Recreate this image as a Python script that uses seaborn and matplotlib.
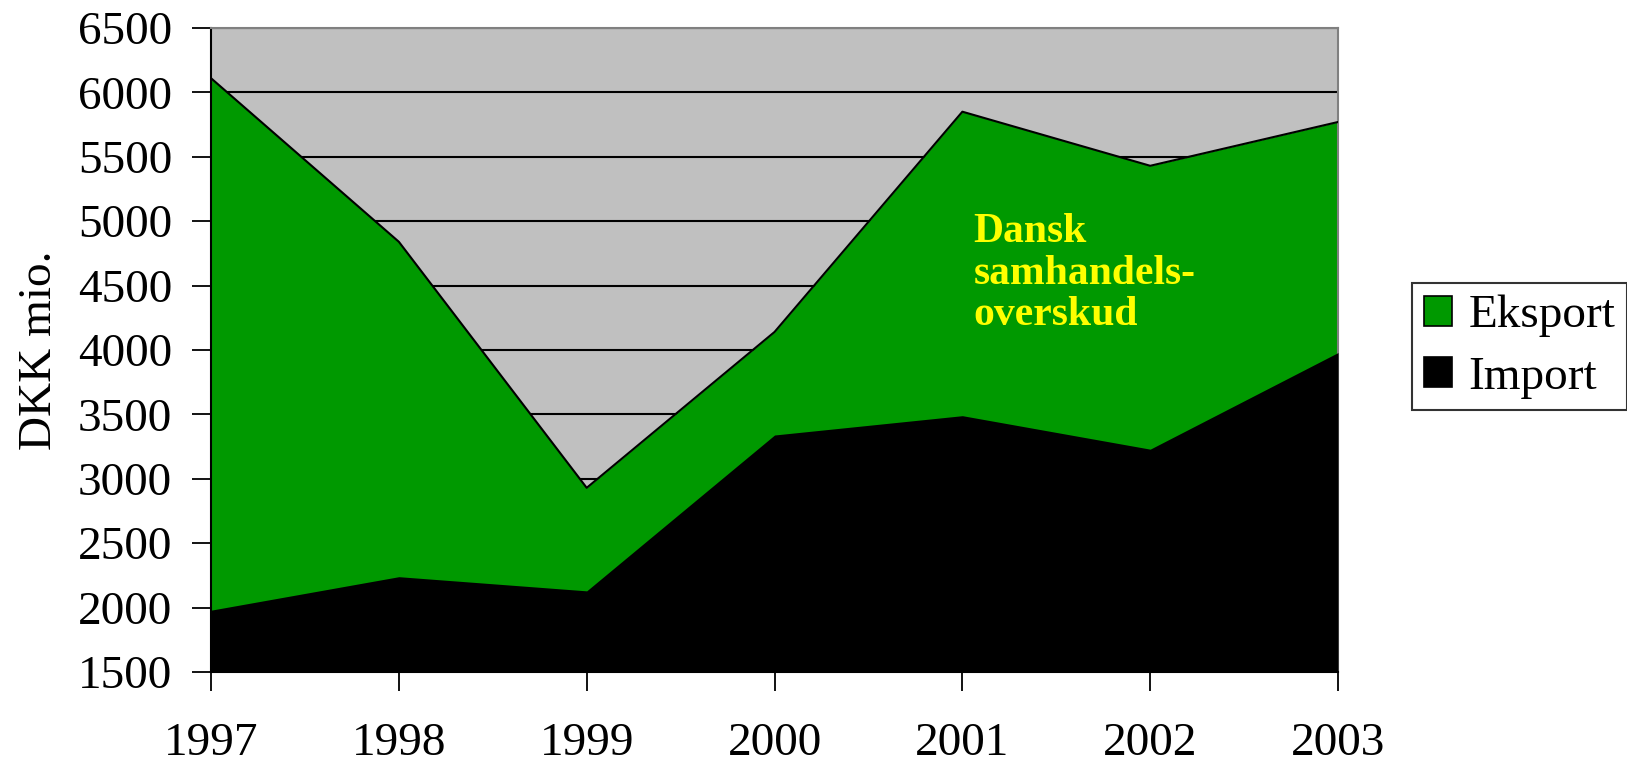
#!/usr/bin/env python3

import matplotlib.pyplot as plt
import pandas as pd
import seaborn as sns
from matplotlib.patches import Patch
from typing import List


# Danish trade, DKK mio.
years: List[int] = [1997, 1998, 1999, 2000, 2001, 2002, 2003]
eksport: List[float] = [6110, 4840, 2930, 4140, 5850, 5430, 5770]
import_: List[float] = [1980, 2240, 2130, 3340, 3490, 3230, 3980]
yticks: List[int] = [1500, 2000, 2500, 3000, 3500, 4000, 4500, 5000, 5500, 6000, 6500]

df: pd.DataFrame = pd.DataFrame({"year": years, "Eksport": eksport, "Import": import_})

sns.set_style("white")
plt.rcParams["font.family"] = ["Liberation Serif", "DejaVu Serif"]
plt.rcParams["text.color"] = "black"
plt.rcParams["axes.labelcolor"] = "black"
plt.rcParams["xtick.color"] = "black"
plt.rcParams["ytick.color"] = "black"

green = "#009900"
fig, ax = plt.subplots(figsize=(16.27, 7.62), dpi=100)
fig.subplots_adjust(left=0.1297, right=0.8224, top=0.9633, bottom=0.1181)

ax.set_facecolor("#C0C0C0")
ax.set_axisbelow(True)
ax.grid(axis="y", color="black", linewidth=1.5)
ax.grid(axis="x", visible=False)

ax.fill_between(df["year"], 1500, df["Eksport"], color=green, linewidth=0, zorder=2)
ax.fill_between(df["year"], 1500, df["Import"], color="black", linewidth=0, zorder=3)
sns.lineplot(data=df, x="year", y="Eksport", color="black", linewidth=1.5, ax=ax, zorder=4)

ax.set_xlim(1997, 2003)
ax.set_ylim(1500, 6500)
ax.set_yticks(yticks)
ax.set_xticks(years)
ax.tick_params(axis="both", labelsize=34, length=14, width=1.3, color="black",
               labelcolor="black", direction="out", left=True, bottom=True)
ax.tick_params(axis="x", pad=22)
ax.tick_params(axis="y", pad=14)

for side in ["top", "right"]:
    ax.spines[side].set_color("#808080")
    ax.spines[side].set_linewidth(1.5)
for side in ["left", "bottom"]:
    ax.spines[side].set_color("black")
    ax.spines[side].set_linewidth(1.5)

ax.set_xlabel("")
ax.set_ylabel("DKK mio.", fontsize=34, labelpad=12, color="black")

ax.text(2001.06, 5060, "Dansk\nsamhandels-\noverskud", color="#FFFF00", fontsize=30,
        fontweight="bold", va="top", ha="left", linespacing=1.12, zorder=5)

handles = [Patch(facecolor=green, edgecolor="black", linewidth=1.2),
           Patch(facecolor="black", edgecolor="black", linewidth=1.2)]
leg = fig.legend(handles, ["Eksport", "Import"], loc="upper left",
                 bbox_to_anchor=(1412 / 1627, 1 - 283 / 762), fontsize=34,
                 frameon=True, fancybox=False, edgecolor="black",
                 handlelength=0.6, handleheight=0.6, handletextpad=0.35,
                 borderpad=0.25, labelspacing=0.4, borderaxespad=0)
leg.get_frame().set_linewidth(1.5)
for t in leg.get_texts():
    t.set_color("black")

plt.savefig("out.png", dpi=100)
